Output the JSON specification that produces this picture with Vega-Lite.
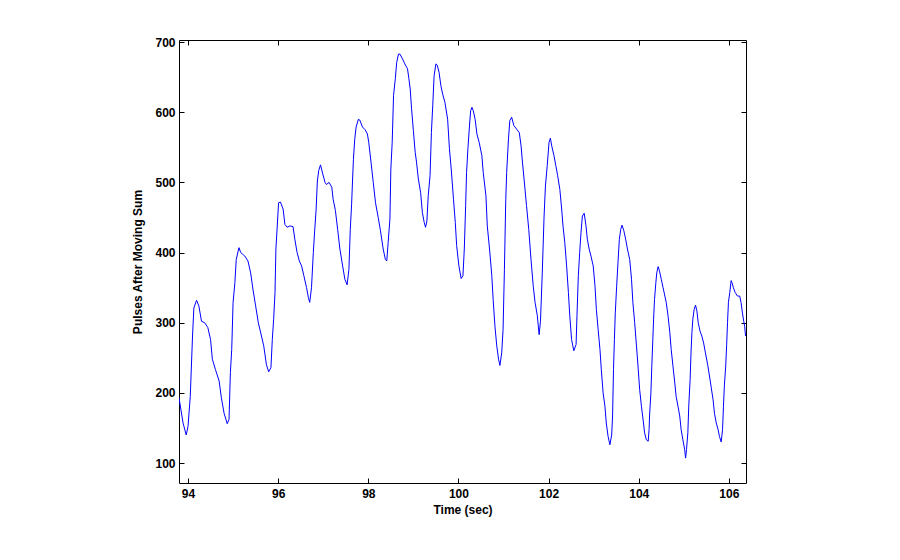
{
  "$schema": "https://vega.github.io/schema/vega-lite/v6.json",
  "width": 567,
  "height": 443,
  "autosize": {"type": "none"},
  "padding": {"left": 179, "top": 40, "right": 154, "bottom": 77},
  "background": "white",
  "config": {
    "view": {"stroke": null},
    "axis": {
      "domainColor": "black", "domainWidth": 1,
      "tickColor": "black", "tickWidth": 1,
      "grid": false,
      "labelFont": "Liberation Sans", "labelFontWeight": "bold", "labelFontSize": 12, "labelColor": "black",
      "titleFont": "Liberation Sans", "titleFontWeight": "bold", "titleFontSize": 12, "titleColor": "black"
    }
  },
  "data": {"values": [
    {"t":93.80,"v":193},{"t":93.89,"v":157},{"t":93.96,"v":140},{"t":94.00,"v":152},{"t":94.05,"v":195},
    {"t":94.10,"v":281},{"t":94.13,"v":321},{"t":94.19,"v":332},{"t":94.24,"v":324},{"t":94.30,"v":302},
    {"t":94.37,"v":300},{"t":94.44,"v":293},{"t":94.50,"v":276},{"t":94.54,"v":248},{"t":94.61,"v":233},
    {"t":94.69,"v":217},{"t":94.74,"v":193},{"t":94.80,"v":171},{"t":94.87,"v":156},{"t":94.91,"v":162},
    {"t":94.94,"v":229},{"t":94.97,"v":262},{"t":95.00,"v":329},{"t":95.04,"v":357},{"t":95.07,"v":390},
    {"t":95.13,"v":407},{"t":95.17,"v":400},{"t":95.26,"v":395},{"t":95.33,"v":388},{"t":95.39,"v":371},
    {"t":95.44,"v":348},{"t":95.50,"v":324},{"t":95.56,"v":300},{"t":95.63,"v":281},{"t":95.68,"v":267},
    {"t":95.74,"v":240},{"t":95.79,"v":230},{"t":95.84,"v":236},{"t":95.87,"v":276},{"t":95.90,"v":305},
    {"t":95.93,"v":343},{"t":95.95,"v":405},{"t":95.98,"v":438},{"t":96.01,"v":471},{"t":96.05,"v":472},
    {"t":96.11,"v":462},{"t":96.15,"v":440},{"t":96.20,"v":436},{"t":96.26,"v":438},{"t":96.33,"v":437},
    {"t":96.37,"v":419},{"t":96.42,"v":400},{"t":96.47,"v":388},{"t":96.52,"v":381},{"t":96.57,"v":367},
    {"t":96.63,"v":350},{"t":96.67,"v":336},{"t":96.70,"v":329},{"t":96.74,"v":350},{"t":96.78,"v":400},
    {"t":96.81,"v":431},{"t":96.84,"v":459},{"t":96.87,"v":502},{"t":96.90,"v":517},{"t":96.94,"v":525},
    {"t":96.99,"v":512},{"t":97.04,"v":500},{"t":97.07,"v":497},{"t":97.13,"v":500},{"t":97.19,"v":493},
    {"t":97.22,"v":476},{"t":97.27,"v":460},{"t":97.32,"v":433},{"t":97.37,"v":405},{"t":97.43,"v":381},
    {"t":97.48,"v":362},{"t":97.53,"v":354},{"t":97.57,"v":376},{"t":97.60,"v":433},{"t":97.63,"v":469},
    {"t":97.65,"v":502},{"t":97.67,"v":533},{"t":97.70,"v":562},{"t":97.73,"v":579},{"t":97.78,"v":590},
    {"t":97.81,"v":589},{"t":97.87,"v":579},{"t":97.93,"v":575},{"t":97.98,"v":569},{"t":98.01,"v":557},
    {"t":98.06,"v":529},{"t":98.11,"v":500},{"t":98.16,"v":471},{"t":98.22,"v":450},{"t":98.27,"v":431},
    {"t":98.33,"v":405},{"t":98.38,"v":390},{"t":98.41,"v":388},{"t":98.44,"v":414},{"t":98.48,"v":448},
    {"t":98.50,"v":519},{"t":98.53,"v":557},{"t":98.56,"v":624},{"t":98.60,"v":648},{"t":98.63,"v":671},
    {"t":98.67,"v":683},{"t":98.70,"v":683},{"t":98.76,"v":676},{"t":98.81,"v":669},{"t":98.87,"v":662},
    {"t":98.90,"v":648},{"t":98.93,"v":633},{"t":98.96,"v":605},{"t":99.00,"v":574},{"t":99.04,"v":543},
    {"t":99.07,"v":529},{"t":99.11,"v":505},{"t":99.16,"v":486},{"t":99.20,"v":457},{"t":99.24,"v":443},
    {"t":99.27,"v":436},{"t":99.30,"v":445},{"t":99.33,"v":481},{"t":99.37,"v":510},{"t":99.40,"v":571},
    {"t":99.43,"v":610},{"t":99.46,"v":652},{"t":99.50,"v":669},{"t":99.53,"v":667},{"t":99.57,"v":657},
    {"t":99.61,"v":638},{"t":99.65,"v":626},{"t":99.70,"v":614},{"t":99.76,"v":590},{"t":99.80,"v":548},
    {"t":99.84,"v":519},{"t":99.89,"v":476},{"t":99.93,"v":443},{"t":99.96,"v":410},{"t":100.01,"v":381},
    {"t":100.06,"v":363},{"t":100.10,"v":367},{"t":100.13,"v":405},{"t":100.16,"v":467},{"t":100.18,"v":514},
    {"t":100.21,"v":548},{"t":100.24,"v":576},{"t":100.27,"v":602},{"t":100.30,"v":607},{"t":100.33,"v":602},
    {"t":100.37,"v":590},{"t":100.41,"v":569},{"t":100.46,"v":557},{"t":100.52,"v":538},{"t":100.55,"v":514},
    {"t":100.61,"v":481},{"t":100.64,"v":438},{"t":100.69,"v":405},{"t":100.74,"v":367},{"t":100.77,"v":333},
    {"t":100.81,"v":295},{"t":100.85,"v":267},{"t":100.89,"v":248},{"t":100.92,"v":239},{"t":100.96,"v":257},
    {"t":100.99,"v":290},{"t":101.02,"v":376},{"t":101.05,"v":476},{"t":101.07,"v":514},{"t":101.11,"v":562},
    {"t":101.14,"v":588},{"t":101.18,"v":593},{"t":101.23,"v":581},{"t":101.29,"v":576},{"t":101.35,"v":571},
    {"t":101.39,"v":552},{"t":101.42,"v":529},{"t":101.47,"v":495},{"t":101.51,"v":467},{"t":101.56,"v":433},
    {"t":101.61,"v":390},{"t":101.66,"v":352},{"t":101.70,"v":329},{"t":101.75,"v":310},{"t":101.79,"v":283},
    {"t":101.82,"v":302},{"t":101.86,"v":371},{"t":101.90,"v":452},{"t":101.93,"v":495},{"t":101.97,"v":524},
    {"t":102.01,"v":557},{"t":102.04,"v":563},{"t":102.07,"v":552},{"t":102.12,"v":538},{"t":102.16,"v":524},
    {"t":102.20,"v":510},{"t":102.25,"v":490},{"t":102.29,"v":462},{"t":102.32,"v":438},{"t":102.36,"v":414},
    {"t":102.40,"v":381},{"t":102.44,"v":343},{"t":102.47,"v":310},{"t":102.51,"v":276},{"t":102.56,"v":260},
    {"t":102.61,"v":269},{"t":102.63,"v":310},{"t":102.66,"v":367},{"t":102.69,"v":400},{"t":102.72,"v":429},
    {"t":102.75,"v":452},{"t":102.79,"v":456},{"t":102.83,"v":438},{"t":102.86,"v":419},{"t":102.90,"v":405},
    {"t":102.94,"v":395},{"t":102.99,"v":381},{"t":103.03,"v":352},{"t":103.06,"v":319},{"t":103.10,"v":290},
    {"t":103.14,"v":262},{"t":103.17,"v":233},{"t":103.21,"v":200},{"t":103.25,"v":181},{"t":103.28,"v":157},
    {"t":103.32,"v":138},{"t":103.36,"v":126},{"t":103.40,"v":140},{"t":103.42,"v":167},{"t":103.44,"v":233},
    {"t":103.46,"v":276},{"t":103.48,"v":314},{"t":103.51,"v":352},{"t":103.54,"v":386},{"t":103.57,"v":419},
    {"t":103.60,"v":433},{"t":103.63,"v":439},{"t":103.67,"v":431},{"t":103.71,"v":419},{"t":103.75,"v":405},
    {"t":103.80,"v":390},{"t":103.84,"v":362},{"t":103.87,"v":329},{"t":103.91,"v":300},{"t":103.95,"v":267},
    {"t":103.99,"v":233},{"t":104.02,"v":205},{"t":104.06,"v":181},{"t":104.10,"v":160},{"t":104.13,"v":143},
    {"t":104.17,"v":133},{"t":104.21,"v":131},{"t":104.23,"v":148},{"t":104.24,"v":167},{"t":104.27,"v":200},
    {"t":104.29,"v":238},{"t":104.31,"v":271},{"t":104.33,"v":305},{"t":104.35,"v":333},{"t":104.38,"v":357},
    {"t":104.40,"v":371},{"t":104.43,"v":380},{"t":104.46,"v":374},{"t":104.50,"v":362},{"t":104.54,"v":350},
    {"t":104.58,"v":338},{"t":104.61,"v":329},{"t":104.65,"v":310},{"t":104.69,"v":286},{"t":104.72,"v":262},
    {"t":104.76,"v":238},{"t":104.80,"v":214},{"t":104.83,"v":195},{"t":104.87,"v":181},{"t":104.91,"v":167},
    {"t":104.94,"v":148},{"t":104.98,"v":133},{"t":105.02,"v":119},{"t":105.04,"v":107},{"t":105.06,"v":119},
    {"t":105.09,"v":143},{"t":105.11,"v":181},{"t":105.14,"v":219},{"t":105.16,"v":257},{"t":105.18,"v":286},
    {"t":105.20,"v":305},{"t":105.23,"v":319},{"t":105.26,"v":325},{"t":105.29,"v":317},{"t":105.32,"v":300},
    {"t":105.36,"v":288},{"t":105.40,"v":281},{"t":105.44,"v":271},{"t":105.48,"v":257},{"t":105.53,"v":240},
    {"t":105.57,"v":224},{"t":105.61,"v":207},{"t":105.65,"v":190},{"t":105.68,"v":171},{"t":105.72,"v":157},
    {"t":105.76,"v":148},{"t":105.79,"v":138},{"t":105.83,"v":130},{"t":105.86,"v":148},{"t":105.88,"v":181},
    {"t":105.90,"v":210},{"t":105.93,"v":238},{"t":105.95,"v":267},{"t":105.97,"v":300},{"t":105.99,"v":329},
    {"t":106.02,"v":343},{"t":106.05,"v":360},{"t":106.07,"v":357},{"t":106.10,"v":350},{"t":106.14,"v":343},
    {"t":106.19,"v":338},{"t":106.24,"v":338},{"t":106.27,"v":329},{"t":106.30,"v":314},{"t":106.33,"v":302},
    {"t":106.35,"v":295},{"t":106.37,"v":281}
  ]},
  "layer": [
    {
      "mark": {"type": "line", "color": "#0000ff", "strokeWidth": 1, "clip": true},
      "encoding": {
        "x": {"field": "t", "type": "quantitative",
              "scale": {"domain": [93.8, 106.38], "nice": false, "zero": false},
              "axis": {"orient": "bottom", "values": [94, 96, 98, 100, 102, 104, 106], "tickSize": -5, "labelPadding": 10, "title": "Time (sec)", "titlePadding": 5}},
        "y": {"field": "v", "type": "quantitative",
              "scale": {"domain": [71.5, 703], "nice": false, "zero": false},
              "axis": {"orient": "left", "values": [100, 200, 300, 400, 500, 600, 700], "tickSize": -5, "labelPadding": 9, "title": "Pulses After Moving Sum", "titlePadding": 10}}
      }
    },
    {
      "mark": {"type": "line", "opacity": 0},
      "encoding": {
        "x": {"field": "t", "type": "quantitative",
              "axis": {"orient": "top", "values": [94, 96, 98, 100, 102, 104, 106], "tickSize": -5, "labels": false, "title": null}},
        "y": {"field": "v", "type": "quantitative",
              "axis": {"orient": "right", "values": [100, 200, 300, 400, 500, 600, 700], "tickSize": -5, "labels": false, "title": null}}
      }
    }
  ],
  "resolve": {"axis": {"x": "independent", "y": "independent"}}
}
